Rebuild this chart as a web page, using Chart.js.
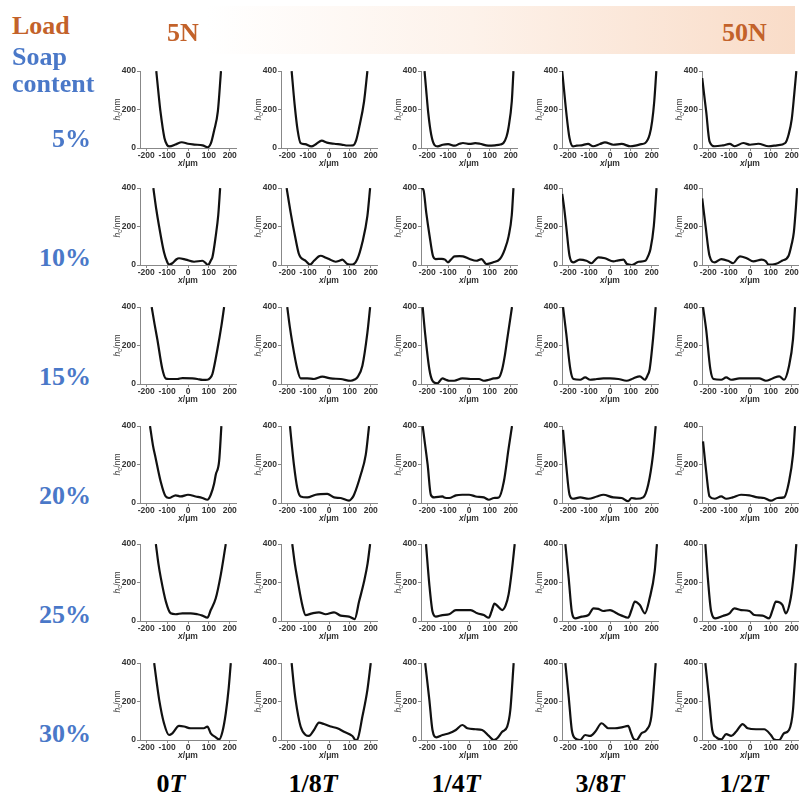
<!DOCTYPE html>
<html>
<head>
<meta charset="utf-8">
<script src="https://cdn.jsdelivr.net/npm/chart.js@4"></script>
<style>
  html, body { margin: 0; padding: 0; background: #fff; }
  #stage { position: relative; width: 800px; height: 800px; overflow: hidden; background: #fff; }
  .lbl { position: absolute; font-family: "Liberation Serif", "Times New Roman", serif; font-weight: bold; font-size: 26px; line-height: 1; white-space: nowrap; }
  .load { color: #c3622a; }
  .soap { color: #4a78c8; }
  .period { color: #000; }
  #band { position: absolute; left: 207px; top: 6px; width: 588px; height: 48px;
          background: linear-gradient(to right, #ffffff 0%, #fdf2ea 45%, #f9dcc8 100%); }
  canvas { position: absolute; }
</style>
</head>
<body>
<div id="stage"><div id="band"></div></div>
<script>
// Row / column categories and axis ticks
const soapContents = ['5%', '10%', '15%', '20%', '25%', '30%'];
const periods = ['0T', '1/8T', '1/4T', '3/8T', '1/2T'];
const loads = ['5N', '50N'];
const xTicks = [-200, -100, 0, 100, 200];
const yTicks = [0, 200, 400];

// Film thickness profiles h_c (nm) against x (µm), one per soap content and period
const p5_0T   = [[-152,400],[-140,270],[-132,190],[-113,52],[-100,15],[-88,8],[-60,18],[-30,30],[0,22],[30,18],[70,14],[95,4],[110,25],[125,90],[143,190],[158,400]];
const p5_1_8T = [[-179,400],[-165,230],[-150,90],[-136,25],[-115,20],[-85,8],[-60,22],[-35,38],[-10,28],[25,22],[60,18],[90,13],[115,14],[130,40],[144,104],[168,242],[184,400]];
const p5_1_4T = [[-213,400],[-205,300],[-195,180],[-181,69],[-165,15],[-150,8],[-126,17],[-100,20],[-69,12],[-45,22],[-29,26],[3,21],[30,25],[52,22],[92,12],[125,14],[150,18],[165,26],[180,60],[189,104],[205,242],[213,400]];
const p5_3_8T = [[-229,400],[-220,300],[-210,190],[-194,52],[-177,8],[-160,12],[-137,14],[-105,21],[-81,9],[-48,21],[-24,29],[16,17],[56,21],[97,9],[121,12],[150,20],[169,26],[190,70],[202,140],[212,242],[222,400]];
const p5_1_2T = [[-229,364],[-220,280],[-210,190],[-194,35],[-169,9],[-129,14],[-97,21],[-73,9],[-32,26],[0,17],[40,22],[89,9],[129,14],[169,26],[185,70],[200,150],[212,280],[222,400]];

const p10_0T   = [[-166,400],[-152,290],[-139,204],[-115,66],[-99,14],[-91,2],[-75,9],[-55,30],[-43,35],[-11,28],[29,17],[69,22],[85,10],[96,0],[110,25],[117,40],[133,152],[145,260],[154,400]];
const p10_1_8T = [[-203,400],[-184,274],[-160,135],[-145,60],[-136,40],[-112,22],[-91,2],[-72,22],[-50,44],[-40,48],[-15,38],[0,31],[32,17],[50,22],[64,28],[88,5],[112,2],[136,31],[160,118],[184,256],[197,400]];
const p10_1_4T = [[-228,400],[-218,390],[-205,274],[-189,152],[-173,48],[-160,31],[-130,32],[-115,28],[-101,14],[-85,30],[-69,45],[-45,46],[-29,45],[3,31],[35,22],[60,31],[84,5],[116,14],[148,31],[172,83],[190,150],[205,260],[213,400]];
const p10_3_8T = [[-229,370],[-220,300],[-210,204],[-194,48],[-177,14],[-145,28],[-113,22],[-89,9],[-70,28],[-56,40],[-24,35],[16,19],[40,24],[65,28],[81,5],[105,0],[137,17],[169,22],[184,50],[194,83],[210,204],[223,400]];
const p10_1_2T = [[-229,346],[-213,204],[-194,48],[-169,14],[-137,31],[-105,22],[-81,9],[-60,35],[-48,45],[-16,35],[16,19],[56,28],[75,20],[89,2],[121,5],[153,22],[185,48],[200,110],[210,170],[220,300],[226,400]];

const p15_0T   = [[-174,400],[-160,310],[-147,233],[-123,78],[-107,29],[-91,26],[-51,26],[-27,31],[21,29],[45,26],[69,21],[93,22],[105,30],[117,52],[141,181],[160,302],[173,400]];
const p15_1_8T = [[-200,400],[-188,300],[-176,215],[-152,78],[-136,29],[-104,29],[-72,26],[-32,38],[8,29],[56,26],[104,17],[125,25],[136,34],[160,95],[184,267],[197,400]];
const p15_1_4T = [[-222,400],[-210,260],[-190,77],[-175,17],[-152,3],[-127,29],[-110,22],[-95,17],[-71,17],[-32,29],[8,26],[48,26],[71,17],[95,22],[119,29],[143,34],[159,77],[172,150],[183,232],[206,400]];
const p15_3_8T = [[-225,400],[-210,266],[-190,77],[-175,26],[-143,22],[-119,34],[-95,22],[-63,26],[-32,29],[0,29],[40,26],[79,17],[111,29],[143,40],[167,22],[180,45],[190,77],[206,232],[219,400]];
const p15_1_2T = [[-225,400],[-210,283],[-190,77],[-175,26],[-138,22],[-114,34],[-90,22],[-51,29],[-3,29],[44,29],[76,17],[108,29],[140,40],[163,22],[187,94],[206,232],[216,400]];

const p20_0T   = [[-182,400],[-168,300],[-155,233],[-131,112],[-107,34],[-91,26],[-59,40],[-35,34],[0,43],[37,34],[69,26],[93,17],[109,43],[125,100],[133,147],[149,216],[160,400]];
const p20_1_8T = [[-187,400],[-178,300],[-168,198],[-152,78],[-136,34],[-104,29],[-64,43],[-8,47],[24,29],[56,26],[96,12],[110,25],[120,43],[152,147],[176,250],[192,400]];
const p20_1_4T = [[-222,400],[-210,300],[-198,198],[-183,43],[-167,29],[-127,34],[-119,29],[-95,26],[-63,40],[-32,43],[0,43],[32,34],[71,29],[95,17],[119,26],[143,29],[167,112],[190,285],[206,400]];
const p20_3_8T = [[-225,380],[-210,198],[-194,43],[-178,22],[-143,29],[-103,22],[-63,34],[-32,43],[16,29],[56,26],[87,9],[103,26],[127,22],[159,29],[183,95],[206,250],[219,400]];
const p20_1_2T = [[-225,320],[-210,164],[-194,34],[-170,22],[-138,34],[-114,22],[-83,29],[-43,43],[-3,40],[37,29],[68,26],[100,12],[132,26],[163,29],[187,112],[206,250],[216,400]];

const p25_0T   = [[-154,400],[-142,300],[-130,223],[-106,101],[-83,40],[-59,35],[-27,40],[13,40],[45,35],[69,28],[93,17],[109,57],[133,118],[157,240],[181,400]];
const p25_1_8T = [[-176,400],[-164,300],[-152,223],[-128,83],[-112,31],[-80,40],[-48,45],[-16,35],[24,45],[56,28],[96,23],[123,10],[144,101],[168,205],[185,300],[197,400]];
const p25_1_4T = [[-206,400],[-190,188],[-175,49],[-159,23],[-127,31],[-95,35],[-63,57],[-32,57],[8,57],[40,40],[71,31],[95,17],[108,50],[122,90],[135,80],[159,57],[175,80],[190,140],[205,260],[219,400]];
const p25_3_8T = [[-214,400],[-198,223],[-183,49],[-167,14],[-135,23],[-103,31],[-79,66],[-56,63],[-32,52],[0,57],[32,40],[56,28],[87,17],[103,57],[119,101],[143,83],[167,40],[190,118],[214,257],[225,400]];
const p25_1_2T = [[-214,400],[-202,223],[-186,49],[-165,14],[-130,26],[-98,40],[-75,66],[-43,57],[-3,52],[21,31],[60,28],[92,14],[108,57],[124,101],[156,83],[171,40],[195,118],[211,257],[222,400]];

const p30_0T   = [[-162,400],[-150,300],[-138,209],[-115,87],[-91,26],[-75,35],[-43,73],[-19,70],[13,61],[45,61],[76,61],[93,70],[109,35],[133,14],[149,3],[165,43],[181,139],[195,270],[205,400]];
const p30_1_8T = [[-179,400],[-170,300],[-160,209],[-136,70],[-112,26],[-96,21],[-72,52],[-48,90],[-24,83],[8,70],[40,61],[72,43],[112,21],[128,0],[136,3],[160,122],[184,261],[200,400]];
const p30_1_4T = [[-210,400],[-190,209],[-175,52],[-156,14],[-127,26],[-95,35],[-63,52],[-32,78],[-8,61],[32,56],[63,52],[95,21],[119,0],[135,9],[159,43],[183,70],[198,156],[214,400]];
const p30_3_8T = [[-214,400],[-198,226],[-183,52],[-167,9],[-143,0],[-119,26],[-95,21],[-71,43],[-40,87],[-8,61],[24,61],[56,66],[87,73],[100,40],[111,9],[127,0],[151,35],[175,52],[198,122],[219,400]];
const p30_1_2T = [[-214,400],[-197,226],[-181,52],[-162,14],[-138,3],[-114,31],[-90,21],[-67,43],[-35,83],[-11,61],[29,56],[68,56],[100,26],[116,3],[140,0],[163,35],[187,52],[206,156],[219,400]];

// Grid of profiles: rows = soap content, columns = period
const profiles = [
  [p5_0T,  p5_1_8T,  p5_1_4T,  p5_3_8T,  p5_1_2T],
  [p10_0T, p10_1_8T, p10_1_4T, p10_3_8T, p10_1_2T],
  [p15_0T, p15_1_8T, p15_1_4T, p15_3_8T, p15_1_2T],
  [p20_0T, p20_1_8T, p20_1_4T, p20_3_8T, p20_1_2T],
  [p25_0T, p25_1_8T, p25_1_4T, p25_3_8T, p25_1_2T],
  [p30_0T, p30_1_8T, p30_1_4T, p30_3_8T, p30_1_2T]
];

// Panel placement: y-axis line x and top of plot area for every column / row
const colAxisX = [140, 281, 421, 562, 702];
const rowTopY = [71, 188, 307, 426, 544, 663];
const PLOT_W = 96, PLOT_H = 77, AXIS_W = 32, AXIS_H = 22, PAD_T = 6, PAD_R = 6;

const stage = document.getElementById('stage');
const SANS = '"Liberation Sans", Arial, sans-serif';
const tickFont = { family: SANS, size: 8.5, weight: 'bold' };

// Axis titles: italic x / µm, and h with subscript c / nm
const axisTitles = {
  id: 'axisTitles',
  afterDraw(chart) {
    const ctx = chart.ctx;
    const area = chart.chartArea;
    ctx.save();
    ctx.fillStyle = '#333';
    ctx.textBaseline = 'alphabetic';
    // x title
    const x0 = chart.scales.x.getPixelForValue(0);
    ctx.font = 'italic bold 8.5px ' + SANS;
    const wx = ctx.measureText('x').width;
    ctx.font = 'bold 8.5px ' + SANS;
    const wu = ctx.measureText('/\u03bcm').width;
    const sx = x0 - (wx + wu) / 2;
    const by = area.bottom + 18;
    ctx.font = 'italic bold 8.5px ' + SANS;
    ctx.fillText('x', sx, by);
    ctx.font = 'bold 8.5px ' + SANS;
    ctx.fillText('/\u03bcm', sx + wx, by);
    // y title (rotated)
    ctx.translate(area.left - 20, (area.top + area.bottom) / 2);
    ctx.rotate(-Math.PI / 2);
    ctx.font = 'italic 8.5px ' + SANS;
    const wh = ctx.measureText('h').width;
    ctx.font = '6.5px ' + SANS;
    const wc = ctx.measureText('c').width;
    ctx.font = '8.5px ' + SANS;
    const wn = ctx.measureText('/nm').width;
    const tx = -(wh + wc + wn) / 2;
    ctx.font = 'italic 8.5px ' + SANS;
    ctx.fillText('h', tx, 0);
    ctx.font = '6.5px ' + SANS;
    ctx.fillText('c', tx + wh, 2);
    ctx.font = '8.5px ' + SANS;
    ctx.fillText('/nm', tx + wh + wc, 0);
    ctx.restore();
  }
};

profiles.forEach((row, r) => {
  row.forEach((profile, c) => {
    const cv = document.createElement('canvas');
    cv.width = AXIS_W + PLOT_W + PAD_R;
    cv.height = PAD_T + PLOT_H + AXIS_H;
    cv.style.left = (colAxisX[c] - AXIS_W) + 'px';
    cv.style.top = (rowTopY[r] - PAD_T) + 'px';
    stage.appendChild(cv);
    new Chart(cv, {
      type: 'line',
      data: {
        datasets: [{
          data: profile.map(([x, y]) => ({ x, y })),
          borderColor: '#111',
          borderWidth: 2.2,
          pointRadius: 0,
          fill: false,
          cubicInterpolationMode: 'monotone'
        }]
      },
      options: {
        responsive: false,
        animation: false,
        devicePixelRatio: 1,
        layout: { padding: { top: PAD_T, right: PAD_R, left: 0, bottom: 0 } },
        plugins: { legend: { display: false }, tooltip: { enabled: false } },
        scales: {
          x: {
            type: 'linear', min: -230, max: 230,
            afterBuildTicks: s => { s.ticks = xTicks.map(v => ({ value: v })); },
            afterFit: s => { s.height = AXIS_H; },
            ticks: { font: tickFont, color: '#333', padding: 0, maxRotation: 0, autoSkip: false },
            grid: { display: true, drawOnChartArea: false, drawTicks: true, tickLength: 3, color: '#888' },
            border: { display: true, color: '#888', width: 1 }
          },
          y: {
            type: 'linear', min: 0, max: 400,
            afterBuildTicks: s => { s.ticks = yTicks.map(v => ({ value: v })); },
            afterFit: s => { s.width = AXIS_W; },
            ticks: { font: tickFont, color: '#333', padding: 1 },
            grid: { display: true, drawOnChartArea: false, drawTicks: true, tickLength: 3, color: '#888' },
            border: { display: true, color: '#888', width: 1 }
          }
        }
      },
      plugins: [axisTitles]
    });
  });
});

// Header and row / column labels
function addLabel(text, cls, css) {
  const d = document.createElement('div');
  d.className = 'lbl ' + cls;
  d.innerHTML = text;
  Object.assign(d.style, css);
  stage.appendChild(d);
  return d;
}
addLabel('Load', 'load', { left: '12px', top: '13px' });
addLabel('Soap', 'soap', { left: '12px', top: '44px' });
addLabel('content', 'soap', { left: '12px', top: '71px' });
addLabel(loads[0], 'load', { left: '167px', top: '20px' });
addLabel(loads[1], 'load', { left: '722px', top: '20px' });

const rowBaseY = [147, 266, 385, 504, 623, 742];
soapContents.forEach((s, i) => {
  addLabel(s, 'soap', { right: (800 - 91) + 'px', top: (rowBaseY[i] - 21) + 'px' });
});
const periodCenters = [171, 313, 456, 600, 744];
periods.forEach((p, i) => {
  const html = p.slice(0, -1) + '<i>' + p.slice(-1) + '</i>';
  const d = addLabel(html, 'period', { left: periodCenters[i] + 'px', top: '771px' });
  d.style.transform = 'translateX(-50%)';
});
</script>
</body>
</html>
